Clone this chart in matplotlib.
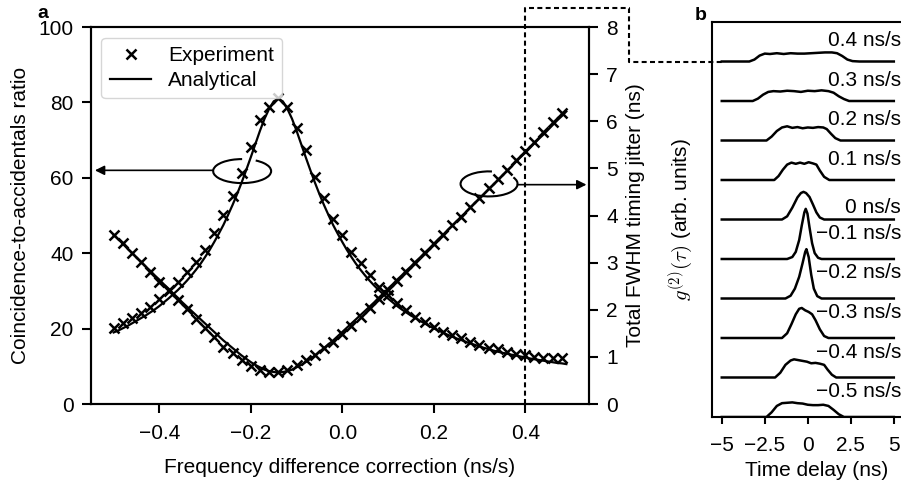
import matplotlib
matplotlib.use('Agg')
import matplotlib.pyplot as plt
from matplotlib.lines import Line2D
from matplotlib.patches import Arc
from matplotlib.transforms import ScaledTranslation

# ---------------- data, panel a ----------------
# frequency difference correction (ns/s) of the measured points
freq_exp = [-0.50, -0.48, -0.46, -0.44, -0.42, -0.40, -0.38, -0.36, -0.34, -0.32,
            -0.30, -0.28, -0.26, -0.24, -0.22, -0.20, -0.18, -0.16, -0.14, -0.12,
            -0.10, -0.08, -0.06, -0.04, -0.02, 0.00, 0.02, 0.04, 0.06, 0.08,
            0.10, 0.12, 0.14, 0.16, 0.18, 0.20, 0.22, 0.24, 0.26, 0.28,
            0.30, 0.32, 0.34, 0.36, 0.38, 0.40, 0.42, 0.44, 0.46, 0.48]

# coincidence-to-accidentals ratio, experiment
car_exp = [20.1, 21.4, 22.7, 24.2, 25.8, 27.8, 30.0, 32.4, 35.1, 37.8,
           40.8, 45.4, 50.1, 55.2, 61.4, 68.3, 75.3, 78.9, 81.1, 78.9,
           73.1, 67.4, 60.3, 54.6, 49.2, 44.8, 40.4, 37.3, 34.2, 31.1,
           28.9, 26.7, 24.9, 23.2, 21.8, 20.5, 19.2, 18.3, 17.4, 16.5,
           15.6, 15.0, 14.5, 13.9, 13.4, 13.0, 12.6, 12.3, 12.1, 12.1]

# total FWHM timing jitter (ns), experiment
jit_exp = [3.59, 3.41, 3.21, 3.02, 2.81, 2.60, 2.42, 2.21, 2.01, 1.80,
           1.61, 1.42, 1.22, 1.08, 0.93, 0.81, 0.72, 0.69, 0.69, 0.72,
           0.83, 0.93, 1.04, 1.18, 1.32, 1.49, 1.66, 1.85, 2.03, 2.24,
           2.42, 2.62, 2.81, 3.00, 3.20, 3.39, 3.59, 3.79, 3.98, 4.19,
           4.38, 4.58, 4.78, 4.97, 5.17, 5.38, 5.57, 5.78, 5.98, 6.17]

# analytical curves
freq_fit = [-0.50, -0.49, -0.48, -0.47, -0.46, -0.45, -0.44, -0.43, -0.42, -0.41,
            -0.40, -0.39, -0.38, -0.37, -0.36, -0.35, -0.34, -0.33, -0.32, -0.31,
            -0.30, -0.29, -0.28, -0.27, -0.26, -0.25, -0.24, -0.23, -0.22, -0.21,
            -0.20, -0.19, -0.18, -0.17, -0.16, -0.15, -0.14, -0.13, -0.12, -0.11,
            -0.10, -0.09, -0.08, -0.07, -0.06, -0.05, -0.04, -0.03, -0.02, -0.01,
            0.00, 0.01, 0.02, 0.03, 0.04, 0.05, 0.06, 0.07, 0.08, 0.09,
            0.10, 0.11, 0.12, 0.13, 0.14, 0.15, 0.16, 0.17, 0.18, 0.19,
            0.20, 0.21, 0.22, 0.23, 0.24, 0.25, 0.26, 0.27, 0.28, 0.29,
            0.30, 0.31, 0.32, 0.33, 0.34, 0.35, 0.36, 0.37, 0.38, 0.39,
            0.40, 0.41, 0.42, 0.43, 0.44, 0.45, 0.46, 0.47, 0.48, 0.49]

car_fit = [19.0, 19.5, 20.1, 20.7, 21.4, 22.1, 22.8, 23.5, 24.3, 25.1,
           26.0, 27.0, 28.0, 29.1, 30.2, 31.4, 32.7, 34.1, 35.6, 37.2,
           39.0, 40.9, 43.0, 45.2, 47.5, 50.1, 52.8, 55.7, 58.8, 62.1,
           65.5, 69.0, 72.5, 75.7, 78.3, 80.3, 81.0, 80.3, 78.3, 75.7,
           72.5, 69.0, 65.5, 62.1, 58.8, 55.7, 52.8, 50.1, 47.5, 45.2,
           43.0, 40.9, 39.0, 37.2, 35.6, 34.1, 32.7, 31.4, 30.2, 29.1,
           28.0, 27.0, 26.0, 25.1, 24.3, 23.5, 22.8, 22.1, 21.4, 20.7,
           20.1, 19.5, 19.0, 18.4, 17.9, 17.4, 17.0, 16.5, 16.1, 15.7,
           15.3, 14.9, 14.6, 14.2, 13.9, 13.6, 13.4, 13.1, 12.9, 12.6,
           12.4, 12.1, 11.9, 11.7, 11.5, 11.3, 11.1, 10.9, 10.8, 10.6]

jit_fit = [3.59, 3.50, 3.40, 3.30, 3.21, 3.11, 3.02, 2.92, 2.83, 2.73,
           2.64, 2.54, 2.45, 2.35, 2.26, 2.16, 2.07, 1.98, 1.89, 1.80,
           1.71, 1.62, 1.53, 1.44, 1.35, 1.27, 1.19, 1.11, 1.03, 0.96,
           0.89, 0.83, 0.78, 0.73, 0.70, 0.68, 0.67, 0.68, 0.70, 0.73,
           0.78, 0.83, 0.89, 0.96, 1.03, 1.11, 1.19, 1.27, 1.35, 1.44,
           1.53, 1.62, 1.71, 1.80, 1.89, 1.98, 2.07, 2.16, 2.26, 2.35,
           2.45, 2.54, 2.64, 2.73, 2.83, 2.92, 3.02, 3.11, 3.21, 3.30,
           3.40, 3.50, 3.59, 3.69, 3.78, 3.88, 3.98, 4.07, 4.17, 4.27,
           4.36, 4.46, 4.56, 4.65, 4.75, 4.85, 4.95, 5.04, 5.14, 5.24,
           5.33, 5.43, 5.53, 5.63, 5.72, 5.82, 5.92, 6.02, 6.11, 6.21]

freq_ticks = [-0.4, -0.2, 0.0, 0.2, 0.4]
car_ticks = [0, 20, 40, 60, 80, 100]
jit_ticks = [0, 1, 2, 3, 4, 5, 6, 7, 8]

# ---------------- data, panel b ----------------
trace_labels = ['0.4 ns/s', '0.3 ns/s', '0.2 ns/s', '0.1 ns/s', '0 ns/s',
                '\u22120.1 ns/s', '\u22120.2 ns/s', '\u22120.3 ns/s',
                '\u22120.4 ns/s', '\u22120.5 ns/s']

# time delay (ns) and g2 (arb. units) of each trace, top to bottom
t_04 = [-5.0, -3.4, -3.1, -2.8, -2.5, -2.2, -1.8, -1.4, -1.0, -0.6, -0.2,
        0.2, 0.6, 1.0, 1.4, 1.7, 2.0, 2.3, 2.6, 3.0, 5.0]
g_04 = [0.0, 0.0, 0.05, 0.15, 0.20, 0.19, 0.21, 0.19, 0.21, 0.20, 0.20,
        0.21, 0.22, 0.23, 0.23, 0.21, 0.14, 0.05, 0.01, 0.0, 0.0]
t_03 = [-5.0, -3.2, -2.9, -2.6, -2.3, -2.0, -1.6, -1.2, -0.8, -0.4, 0.0,
        0.4, 0.8, 1.2, 1.5, 1.8, 2.1, 2.4, 5.0]
g_03 = [0.0, 0.0, 0.06, 0.16, 0.23, 0.25, 0.24, 0.26, 0.25, 0.23, 0.26,
        0.25, 0.27, 0.25, 0.21, 0.12, 0.05, 0.0, 0.0]
t_02 = [-5.0, -2.4, -2.1, -1.8, -1.5, -1.2, -0.9, -0.6, -0.3, 0.0, 0.3,
        0.6, 0.9, 1.1, 1.35, 1.6, 1.9, 5.0]
g_02 = [0.0, 0.0, 0.10, 0.24, 0.33, 0.36, 0.32, 0.34, 0.31, 0.33, 0.32,
        0.34, 0.33, 0.29, 0.17, 0.06, 0.0, 0.0]
t_01 = [-5.0, -1.95, -1.7, -1.45, -1.2, -0.95, -0.7, -0.45, -0.2, 0.05, 0.3,
        0.5, 0.7, 0.95, 1.25, 5.0]
g_01 = [0.0, 0.0, 0.10, 0.26, 0.39, 0.44, 0.41, 0.44, 0.41, 0.45, 0.42,
        0.39, 0.24, 0.08, 0.0, 0.0]
t_00 = [-5.0, -1.5, -1.2, -0.9, -0.6, -0.4, -0.25, -0.1, 0.1, 0.3, 0.5,
        0.7, 0.95, 5.0]
g_00 = [0.0, 0.0, 0.08, 0.30, 0.56, 0.67, 0.70, 0.67, 0.57, 0.38, 0.18,
        0.05, 0.0, 0.0]
t_m01 = [-5.0, -1.2, -0.9, -0.7, -0.5, -0.35, -0.2, -0.12, -0.02, 0.1, 0.25,
         0.4, 0.6, 0.8, 5.0]
g_m01 = [0.0, 0.0, 0.05, 0.18, 0.48, 0.85, 1.18, 1.27, 1.15, 0.80, 0.40,
         0.15, 0.03, 0.0, 0.0]
t_m02 = [-5.0, -1.3, -1.0, -0.75, -0.5, -0.3, -0.15, -0.08, 0.05, 0.2, 0.35,
         0.55, 0.8, 5.0]
g_m02 = [0.0, 0.0, 0.07, 0.25, 0.55, 0.90, 1.18, 1.25, 1.05, 0.60, 0.25,
         0.06, 0.0, 0.0]
t_m03 = [-5.0, -1.5, -1.2, -0.95, -0.7, -0.5, -0.35, -0.15, 0.05, 0.25, 0.45,
         0.7, 0.95, 1.2, 5.0]
g_m03 = [0.0, 0.0, 0.12, 0.35, 0.60, 0.74, 0.76, 0.70, 0.66, 0.60, 0.45,
         0.22, 0.05, 0.0, 0.0]
t_m04 = [-5.0, -1.9, -1.6, -1.3, -1.0, -0.8, -0.55, -0.3, -0.05, 0.2, 0.45,
         0.7, 0.95, 1.15, 1.4, 1.65, 5.0]
g_m04 = [0.0, 0.0, 0.12, 0.32, 0.43, 0.46, 0.44, 0.42, 0.40, 0.36, 0.37,
         0.35, 0.32, 0.20, 0.07, 0.0, 0.0]
t_m05 = [-5.0, -2.4, -2.1, -1.8, -1.5, -1.2, -0.9, -0.6, -0.3, 0.0, 0.3,
         0.6, 0.9, 1.2, 1.5, 1.8, 2.1, 5.0]
g_m05 = [0.0, 0.0, 0.12, 0.28, 0.35, 0.36, 0.37, 0.35, 0.34, 0.31, 0.30,
         0.30, 0.31, 0.28, 0.18, 0.07, 0.0, 0.0]

traces_t = [t_04, t_03, t_02, t_01, t_00, t_m01, t_m02, t_m03, t_m04, t_m05]
traces_g = [g_04, g_03, g_02, g_01, g_00, g_m01, g_m02, g_m03, g_m04, g_m05]

time_ticks = [-5, -2.5, 0, 2.5, 5]
time_ticklabels = ['\u22125', '\u22122.5', '0', '2.5', '5']

# ---------------- style ----------------
plt.rcParams['font.family'] = ['Liberation Sans', 'DejaVu Sans']
plt.rcParams['font.size'] = 15
plt.rcParams['mathtext.fontset'] = 'cm'
plt.rcParams['axes.linewidth'] = 1.5
plt.rcParams['xtick.major.width'] = 1.5
plt.rcParams['ytick.major.width'] = 1.5
plt.rcParams['xtick.major.size'] = 6.5
plt.rcParams['ytick.major.size'] = 6.5

fig = plt.figure(figsize=(9.01, 4.88), dpi=100)

# ---------------- panel a ----------------
ax = fig.add_axes([0.101, 0.172, 0.5527, 0.7725])
ax2 = ax.twinx()

l_exp, = ax.plot(freq_exp, car_exp, 'x', color='k', ms=7, mew=1.8, label='Experiment')
l_fit, = ax.plot(freq_fit, car_fit, '-', color='k', lw=1.6, label='Analytical')
ax2.plot(freq_exp, jit_exp, 'x', color='k', ms=7, mew=1.8)
ax2.plot(freq_fit, jit_fit, '-', color='k', lw=1.6)

ax.set_xlim(-0.5495, 0.5395)
ax.set_ylim(0, 100)
ax2.set_ylim(0, 8)
ax.set_xticks(freq_ticks)
ax.set_yticks(car_ticks)
ax2.set_yticks(jit_ticks)
ax.tick_params(axis='x', pad=8)
ax.tick_params(axis='y', pad=6)
ax2.tick_params(axis='y', pad=6)

ax.set_xlabel('Frequency difference correction (ns/s)', labelpad=11)
ax.set_ylabel('Coincidence-to-accidentals ratio', labelpad=6)
ax2.set_ylabel('Total FWHM timing jitter (ns)', labelpad=6)

ax2.legend(handles=[l_exp, l_fit], loc='upper left', borderaxespad=0.5,
           labelspacing=0.3, handletextpad=0.8)

# ellipses marking which curve goes with which axis
arc_l = Arc((0, 0), 0.58, 0.24, theta1=90, theta2=398, lw=1.5, color='k',
            transform=fig.dpi_scale_trans + ScaledTranslation(-0.219, 61.8, ax.transData))
arc_r = Arc((0, 0), 0.57, 0.25, theta1=77, theta2=375, lw=1.5, color='k',
            transform=fig.dpi_scale_trans + ScaledTranslation(0.321, 58.4, ax.transData))
ax.add_patch(arc_l)
ax.add_patch(arc_r)
ax.annotate('', xy=(-0.541, 62.0), xytext=(-0.283, 62.0),
            arrowprops=dict(arrowstyle='-|>', color='k', lw=1.2,
                            mutation_scale=14, shrinkA=0, shrinkB=0))
ax.annotate('', xy=(0.534, 58.2), xytext=(0.383, 58.2),
            arrowprops=dict(arrowstyle='-|>', color='k', lw=1.2,
                            mutation_scale=14, shrinkA=0, shrinkB=0))

# ---------------- panel b ----------------
axb = fig.add_axes([0.790, 0.1455, 0.2131, 0.8094])
for i in range(len(traces_t)):
    offset = len(traces_t) - 1 - i
    axb.plot(traces_t[i], [g + offset for g in traces_g[i]], color='k', lw=1.8)

label_lift = [0.53, 0.53, 0.53, 0.53, 0.31, 0.65, 0.65, 0.64, 0.64, 0.64]
for i in range(len(trace_labels)):
    offset = len(traces_t) - 1 - i
    axb.text(5.42, offset + label_lift[i], trace_labels[i], ha='right', va='center')

axb.set_xlim(-5.58, 5.58)
axb.set_ylim(0, 10)
axb.set_yticks([])
axb.set_xticks(time_ticks)
axb.set_xticklabels(time_ticklabels)
axb.tick_params(axis='x', pad=9, length=5)
axb.spines['right'].set_visible(False)
axb.set_xlabel('Time delay (ns)', labelpad=0)
axb.xaxis.set_label_coords(0.547, -0.112)
axb.set_ylabel(r'$g^{(2)}(\tau)$ (arb. units)', labelpad=12)

# panel letters
fig.text(37 / 901, 1 - 13 / 488, 'a', fontsize=14, fontweight='bold', va='center')
fig.text(695 / 901, 1 - 15 / 488, 'b', fontsize=14, fontweight='bold', va='center')

# dashed connector from x = 0.4 ns/s in panel a to the 0.4 ns/s trace
inv = fig.transFigure.inverted()
p0 = inv.transform(ax.transData.transform((0.4, 0)))
p4 = inv.transform(axb.transData.transform((-5.0, 9.0)))
y_top = 1 - 8 / 488
x_mid = 629 / 901
conn = Line2D([p0[0], p0[0], x_mid, x_mid, p4[0]],
              [p0[1], y_top, y_top, p4[1], p4[1]],
              transform=fig.transFigure, color='k', lw=1.5,
              linestyle=(0, (2.4, 1.6)))
fig.add_artist(conn)

fig.savefig('out.png', dpi=100)
